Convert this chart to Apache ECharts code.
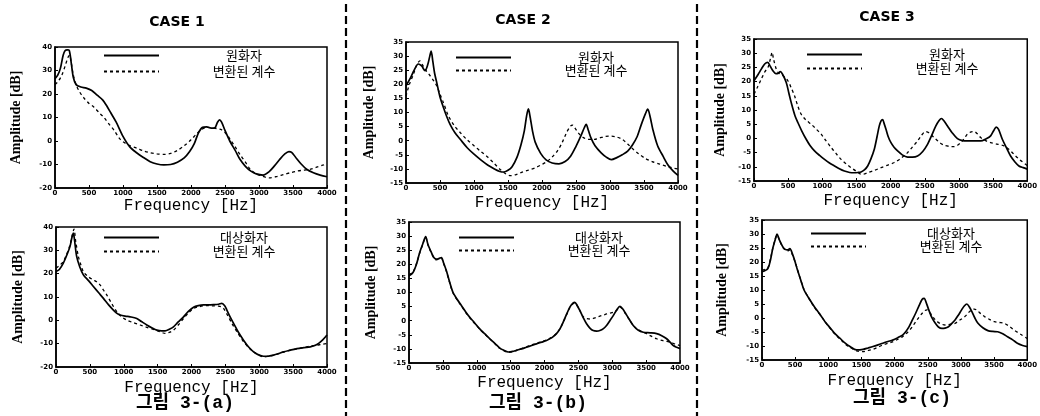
<!DOCTYPE html>
<html lang="ko">
<head>
<meta charset="UTF-8" />
<title>그림 3</title>
<style>
  html, body { margin: 0; padding: 0; background: #fff; }
  #main { width: 1040px; height: 416px; }
</style>
</head>
<body>
<div id="main"></div>
<script src="https://cdn.jsdelivr.net/npm/echarts@6/dist/echarts.min.js"></script>
<script>
// 공통 눈금
var freqTicks = [0, 500, 1000, 1500, 2000, 2500, 3000, 3500, 4000];

// CASE 1 - 원화자 / 변환된 계수
var a1SolidF = [0,40,80,120,150,180,210,240,270,310,380,460,540,620,700,760,820,900,1000,1100,1200,1300,1400,1500,1600,1700,1800,1900,1980,2050,2110,2170,2230,2300,2350,2390,2420,2450,2500,2570,2650,2720,2800,2880,2960,3060,3150,3230,3300,3380,3440,3480,3540,3620,3700,3800,3900,4000];
var a1Solid  = [26.5,28,31,36.5,38.5,38.8,38.5,33,27,24,23,22.5,21.5,19.5,17.5,15,12,8,2,-2.5,-5,-7,-8.8,-9.8,-10.2,-10,-9,-7.2,-4.5,-1,3.5,5.8,6,5.5,5.6,8,9,8,4.5,0,-4,-7.8,-10.8,-12.8,-14,-14.5,-13,-10.5,-8,-5.5,-4.5,-4.8,-7,-9.8,-12,-13.5,-14.5,-15.2];
var a1DashF  = [0,50,100,150,190,215,240,270,310,360,420,500,570,650,720,800,870,950,1000,1100,1200,1300,1400,1500,1600,1700,1800,1900,2000,2080,2150,2230,2300,2380,2450,2520,2580,2650,2720,2800,2870,2950,3050,3150,3250,3360,3460,3560,3660,3760,3860,3950,4000];
var a1Dash   = [24,25.5,28,32,35.5,36.5,33,28,24,21,18.5,16,14.5,12,10,7,4.5,1,-0.3,-2,-3,-4.2,-5,-5.5,-5.7,-5.3,-4,-2,0.5,3,4.8,5.8,5.6,5.3,4.8,3,0.5,-2.5,-5.7,-9,-12,-13.8,-15,-15.7,-15.2,-14.3,-13.5,-12.8,-12.4,-12,-11,-10.2,-9.7];

// CASE 1 - 대상화자 / 변환된 계수
var a2SolidF = [0,50,108,160,207,235,256,275,305,350,404,480,552,630,700,780,847,900,946,1020,1094,1192,1260,1340,1420,1488,1560,1611,1680,1734,1800,1882,1950,2030,2100,2177,2250,2325,2400,2448,2490,2522,2570,2621,2690,2768,2840,2916,2990,3064,3140,3212,3290,3360,3460,3557,3660,3754,3820,3877,3940,4000];
var a2Solid  = [20.9,21.8,24.5,28,31.7,35.5,37.4,34,27.4,23,19.5,17,14.5,11.8,9.4,6.5,4.4,3,2.3,1.8,1.5,0.8,-0.5,-2,-3.3,-4.2,-4.5,-4.5,-3.7,-2.8,-0.8,1.5,3.7,5.6,6.3,6.6,6.6,6.7,6.9,7.3,6.3,4.4,1.5,-1.3,-5,-8.5,-11.3,-13.5,-14.8,-15.4,-15.3,-14.9,-14.2,-13.5,-12.8,-12.1,-11.7,-11.4,-10.8,-9.9,-8.3,-6.3];
var a2DashF  = [0,50,108,160,207,240,266,290,330,370,404,470,552,600,650,700,749,820,897,970,1044,1140,1241,1340,1438,1530,1611,1670,1734,1810,1882,1950,2030,2120,2226,2310,2399,2440,2473,2530,2596,2680,2768,2840,2916,2990,3064,3160,3261,3360,3458,3555,3655,3750,3852,3930,4000];
var a2Dash   = [22.4,23.5,25.2,28.5,32.4,36.5,39.1,34,27.4,23.5,20.9,18.8,17.3,16.5,15.2,13,10.9,7.3,3.7,1.5,0.1,-1,-2,-3,-3.9,-4.8,-5.6,-5.2,-4.2,-1.8,0.8,3,5.1,5.9,6.3,6.2,6.1,5.8,5.1,2.3,-1.3,-5.3,-9.2,-11.5,-13.5,-14.8,-15.7,-15.3,-14.5,-13.6,-12.8,-12.2,-11.6,-11.1,-10.6,-10.3,-9.9];

// CASE 2 - 원화자 / 변환된 계수
var b1SolidF = [0,60,120,180,230,280,320,350,370,395,420,453,500,552,600,650,720,800,900,1000,1100,1200,1300,1380,1440,1500,1560,1630,1690,1740,1775,1800,1825,1860,1900,1980,2060,2150,2250,2340,2420,2500,2570,2620,2650,2680,2720,2780,2870,2950,3020,3100,3180,3260,3330,3400,3460,3520,3555,3590,3630,3700,3780,3850,3930,4000];
var b1Solid  = [19.5,22,25,27.2,26.5,24.8,27,30,31.8,28,24,20.5,15.5,11.7,8.5,5.7,2.8,0.4,-2.5,-4.8,-6.8,-8.6,-10,-10.9,-11.1,-10.5,-9.2,-6,-1.5,3.5,9,11.3,8.5,3.5,-0.5,-4.5,-6.8,-7.9,-8.2,-7.4,-5.5,-2,1.6,4.5,5.8,3.8,1,-1.8,-4.3,-5.9,-6.7,-6,-5,-3.7,-1.5,1.5,5.7,9.5,11.2,8.5,4,-1.8,-5.5,-8.5,-10.8,-12.3];
var b1DashF  = [0,50,108,160,205,240,290,340,400,453,500,552,620,700,800,900,1000,1100,1200,1290,1390,1470,1540,1620,1700,1800,1900,2000,2080,2160,2230,2300,2360,2420,2450,2490,2540,2600,2680,2770,2850,2930,3020,3100,3180,3260,3330,3420,3520,3620,3730,3850,3950,4000];
var b1Dash   = [15.8,20,23.5,27,28.3,27,25,23.5,21.5,19.4,16.5,13.4,9,5.7,2.8,0.3,-1.8,-3.8,-5.8,-7.9,-10.3,-11.8,-12.4,-12,-11.2,-10.4,-9.6,-8.4,-7.3,-5.5,-3.5,-0.5,2.8,5.2,5.5,4.3,2.6,1.2,0.5,0.5,1,1.5,1.6,1.3,0.5,-1.2,-2.8,-4.6,-6.3,-7.4,-8.3,-9.2,-9.8,-10];

// CASE 2 - 대상화자 / 변환된 계수
var b2SolidF = [0,59,110,158,200,246,280,330,370,404,440,478,510,552,600,650,710,773,835,897,970,1044,1120,1192,1270,1340,1400,1463,1530,1586,1660,1734,1810,1882,1960,2030,2110,2177,2230,2276,2330,2374,2420,2448,2480,2522,2570,2621,2670,2719,2770,2817,2870,2916,2965,3015,3070,3113,3150,3187,3250,3310,3380,3458,3560,3655,3730,3803,3860,3901,3950,4000];
var b2Solid  = [15.9,17.1,20,24.2,27,29.8,27,24.2,22.3,21.8,22,22.4,20.5,17.7,13.7,10,7.6,5.4,3.2,1.2,-0.8,-2.9,-4.7,-6.4,-8.1,-9.7,-10.5,-11.1,-10.9,-10.5,-10,-9.4,-8.8,-8.2,-7.6,-7,-6,-4.6,-2.8,-0.5,2.5,4.8,6.2,6.5,5.5,3.6,1.2,-1.1,-2.6,-3.5,-3.7,-3.5,-2.8,-1.7,0,1.8,4,5.1,4.3,3,0.5,-1.7,-3.3,-4.1,-4.3,-4.6,-5.3,-6.4,-7.8,-8.8,-9.4,-9.9];
var b2DashF  = [0,59,110,158,200,246,280,330,370,404,440,478,510,552,600,650,710,773,835,897,970,1044,1120,1192,1270,1340,1400,1463,1530,1586,1660,1734,1810,1882,1960,2030,2110,2177,2230,2276,2330,2374,2420,2448,2480,2522,2570,2621,2670,2719,2770,2817,2870,2916,2965,3015,3070,3113,3150,3187,3250,3310,3380,3458,3507,3560,3655,3750,3852,3930,4000];
var b2Dash   = [16.2,17.3,20.2,24,26.8,29.5,26.8,24,22.2,21.6,21.8,22.1,20.3,17.5,13.5,9.8,7.4,5.2,3,1,-1,-3,-4.8,-6.5,-8.2,-9.8,-10.6,-11.2,-11,-10.5,-9.9,-9.3,-8.6,-8,-7.4,-6.8,-5.8,-4.5,-2.8,-0.6,2.4,4.6,6,6.3,5.4,3.6,1.4,0.8,0.6,0.8,1.2,1.6,2,2.4,2.7,3,3.8,4.8,4.2,2.8,0.5,-1.7,-3.2,-4.1,-4.6,-5.3,-6.4,-7.1,-7.6,-8.3,-8.8];

// CASE 3 - 원화자 / 변환된 계수
var c1SolidF = [0,60,107,160,200,240,277,320,350,385,420,472,510,545,600,642,700,764,820,886,960,1032,1100,1178,1250,1323,1400,1469,1520,1567,1620,1664,1710,1761,1800,1834,1860,1883,1905,1932,1965,2005,2050,2102,2170,2248,2320,2394,2470,2540,2600,2662,2710,2744,2780,2832,2900,2978,3050,3124,3220,3318,3400,3464,3510,3545,3580,3635,3700,3756,3820,3878,3940,4000];
var c1Solid  = [20.3,22.5,24.4,26.3,26.8,25.3,23.8,22.8,22.9,23.5,22.5,19.7,16,12.6,8,5.6,2.6,-0.3,-2.5,-4.4,-6,-7.4,-8.6,-9.7,-10.7,-11.5,-12,-12.1,-12,-11.8,-11,-9.7,-7.3,-3.8,0.5,4.4,6.2,6.6,5.2,3.2,0.6,-1.5,-3.1,-4.4,-5.8,-6.6,-6.6,-6.2,-4.6,-2.1,1,4.4,6.3,7,6.2,4.4,2,-0.1,-0.8,-0.9,-0.9,-0.9,-0.1,0.9,2.8,4,3.2,-0.3,-3.5,-6.2,-8.3,-9.7,-10.3,-10.8];
var c1DashF  = [0,50,107,160,204,240,265,285,326,360,399,450,496,545,593,640,691,760,837,910,983,1050,1129,1200,1275,1350,1421,1500,1567,1620,1664,1760,1859,1960,2053,2150,2248,2320,2394,2450,2510,2560,2637,2710,2783,2860,2929,2980,3026,3080,3124,3180,3221,3270,3318,3390,3464,3560,3659,3730,3805,3890,3975,4000];
var c1Dash   = [15.6,18,20.9,23.5,25,28,30.3,28,24.4,23,22.6,21.5,20.3,17.8,15,11.5,8.5,6.5,5,3.3,1.5,-0.7,-3.2,-5.3,-7.4,-9,-10.3,-11.6,-12.6,-12.5,-12.1,-11.3,-10.3,-9.4,-8.5,-7,-5,-3,-0.9,1,2.4,2,0.3,-1.3,-2.4,-2.8,-2.9,-2.4,-1.5,0,1.5,2.3,2.4,1.6,0.3,-0.8,-1.5,-2,-2.6,-3.8,-5.6,-7.5,-9.1,-9.5];

// CASE 3 - 대상화자 / 변환된 계수
var c2SolidF = [0,89,130,163,200,228,260,312,350,386,420,460,500,535,585,634,700,757,820,881,950,1030,1100,1178,1250,1327,1426,1525,1600,1673,1750,1822,1900,1970,2050,2119,2170,2218,2270,2317,2370,2416,2445,2480,2515,2560,2614,2660,2713,2760,2812,2860,2911,2960,3010,3050,3090,3125,3165,3210,3257,3330,3406,3480,3554,3630,3703,3780,3851,3930,4000];
var c2Solid  = [16.5,17.7,21,24.9,28,30,28,25.5,24.5,24.3,24.8,22.8,20,17.1,13.5,10,7.3,5.2,3,1.1,-1.3,-3.6,-5.6,-7.3,-8.9,-10.2,-11.4,-11.2,-10.7,-10.2,-9.6,-9,-8.4,-7.9,-7,-6.1,-4.8,-3.1,-0.6,1.7,4.5,6.7,7,5.2,2.9,0.2,-1.9,-3.2,-3.7,-3.6,-3.1,-2,-0.7,1,2.9,4.3,5,4,2.3,0,-1.9,-3.5,-4.5,-4.8,-4.9,-5.6,-6.7,-7.8,-9,-9.8,-10.2];
var c2DashF  = [0,89,130,163,200,228,260,312,350,386,420,460,500,535,585,634,700,757,820,881,950,1030,1100,1178,1250,1327,1426,1525,1600,1673,1750,1822,1900,1970,2050,2119,2200,2267,2340,2416,2460,2490,2540,2614,2690,2762,2830,2911,2980,3059,3110,3158,3200,3240,3300,3356,3430,3505,3580,3653,3730,3802,3900,4000];
var c2Dash   = [17.1,18,21.5,25,28.3,29.6,28,25.3,24.3,24,24.3,22.5,20,17.3,13.5,10.2,7.3,5,2.8,1,-1.3,-3.8,-5.8,-7.6,-9.2,-10.5,-11.7,-12,-11.6,-11.2,-10.4,-9.6,-9,-8.5,-7.6,-6.7,-5,-3.1,-0.6,1.7,2.7,2.9,1.6,-0.7,-2,-2.5,-2.3,-1.9,-0.8,0.5,1.8,2.9,3.2,2.8,1.5,0.5,-0.5,-1.3,-1.6,-1.9,-3,-4.3,-5.8,-7.3];

var labelsTop = ['원화자', '변환된 계수'];
var labelsBottom = ['대상화자', '변환된 계수'];

function pairs(f, a) {
  var out = [];
  for (var i = 0; i < f.length; i++) out.push([f[i], a[i]]);
  return out;
}

// 각 그래프 위치 (box: left, top, width, height / legend: left, top, gap)
var panels = [
  { box: [55, 47, 272, 141], y: [-20, 40, 10], names: labelsTop,    solid: pairs(a1SolidF, a1Solid), dash: pairs(a1DashF, a1Dash), legend: [103, 49, 3], yGap: 32, xGap: 10 },
  { box: [406, 42, 272, 141], y: [-15, 35, 5], names: labelsTop,    solid: pairs(b1SolidF, b1Solid), dash: pairs(b1DashF, b1Dash), legend: [455, 51, 0], yGap: 30, xGap: 12 },
  { box: [754, 39, 274, 142], y: [-15, 35, 5], names: labelsTop,    solid: pairs(c1SolidF, c1Solid), dash: pairs(c1DashF, c1Dash), legend: [806, 48, 1], yGap: 27, xGap: 12 },
  { box: [56, 227, 271, 140], y: [-20, 40, 10], names: labelsBottom, solid: pairs(a2SolidF, a2Solid), dash: pairs(a2DashF, a2Dash), legend: [103, 231, 1], yGap: 31, xGap: 13 },
  { box: [409, 222, 271, 141], y: [-15, 35, 5], names: labelsBottom, solid: pairs(b2SolidF, b2Solid), dash: pairs(b2DashF, b2Dash), legend: [458, 231, 0], yGap: 31, xGap: 12 },
  { box: [762, 220, 270, 140], y: [-15, 35, 5], names: labelsBottom, solid: pairs(c2SolidF, c2Solid), dash: pairs(c2DashF, c2Dash), legend: [810, 227, 0], yGap: 33, xGap: 13 }
];

var grids = [], xAxes = [], yAxes = [], series = [], legends = [];
var tickFont = { fontSize: 7, fontWeight: 'bold', color: '#000', fontFamily: 'DejaVu Sans', margin: 3,
  formatter: function (v) { return String(v); } };

panels.forEach(function (p, i) {
  grids.push({ left: p.box[0], top: p.box[1], width: p.box[2], height: p.box[3],
    show: true, borderColor: '#000', borderWidth: 1.5, backgroundColor: 'transparent' });
  xAxes.push({
    gridIndex: i, type: 'value', min: freqTicks[0], max: freqTicks[freqTicks.length - 1], interval: 500,
    name: 'Frequency [Hz]', nameLocation: 'middle', nameGap: p.xGap,
    nameTextStyle: { fontFamily: 'Liberation Mono', fontSize: 16, color: '#000' },
    axisLine: { onZero: false, lineStyle: { color: '#000', width: 1.5 } },
    axisTick: { inside: true, length: 3, lineStyle: { color: '#000' } },
    axisLabel: Object.assign({}, tickFont, { margin: 2 }),
    splitLine: { show: false }
  });
  yAxes.push({
    gridIndex: i, type: 'value', min: p.y[0], max: p.y[1], interval: p.y[2],
    name: 'Amplitude [dB]', nameLocation: 'middle', nameGap: p.yGap, nameRotate: 90,
    nameTextStyle: { fontFamily: 'Liberation Serif', fontWeight: 'bold', fontSize: 14, color: '#000' },
    axisLine: { onZero: false, lineStyle: { color: '#000', width: 1.5 } },
    axisTick: { inside: true, length: 3, lineStyle: { color: '#000' } },
    axisLabel: tickFont,
    splitLine: { show: false }
  });
  series.push({
    name: p.names[0], type: 'line', xAxisIndex: i, yAxisIndex: i, data: p.solid,
    symbol: 'none', smooth: 0.3, color: '#000', lineStyle: { color: '#000', width: 1.7 }, z: 3
  });
  series.push({
    name: p.names[1], type: 'line', xAxisIndex: i, yAxisIndex: i, data: p.dash,
    symbol: 'none', smooth: 0.3, color: '#000', lineStyle: { color: '#000', width: 1.3, type: [3, 3] }, z: 2
  });
  legends.push({
    data: p.names, orient: 'vertical', left: p.legend[0], top: p.legend[1], itemGap: p.legend[2],
    padding: 0, itemWidth: 55, itemHeight: 14, selectedMode: false,
    itemStyle: { opacity: 0 },
    formatter: function (name) { return '{t|' + name + '}'; },
    textStyle: { rich: { t: { width: 160, lineHeight: 14, align: 'center', fontSize: 13, color: '#000', fontFamily: 'Noto Sans CJK KR' } } }
  });
});

function label(x, y, text, font) {
  return { type: 'text', x: x, y: y, style: { text: text, font: font, fill: '#000', textAlign: 'center', textVerticalAlign: 'middle' } };
}
function divider(x) {
  return { type: 'line', shape: { x1: x, y1: 4, x2: x, y2: 416 }, style: { stroke: '#000', lineWidth: 2.2, lineDash: [8, 4] } };
}

var myChart = echarts.init(document.getElementById('main'));
myChart.setOption({
  animation: false,
  backgroundColor: '#fff',
  grid: grids,
  xAxis: xAxes,
  yAxis: yAxes,
  legend: legends,
  series: series,
  graphic: [
    label(177, 22, 'CASE 1', 'bold 14px "DejaVu Sans"'),
    label(523, 20, 'CASE 2', 'bold 14px "DejaVu Sans"'),
    label(887, 17, 'CASE 3', 'bold 14px "DejaVu Sans"'),
    label(185, 403, '그림 3-(a)', 'bold 18px "Liberation Mono", "Noto Sans CJK KR"'),
    label(538, 403, '그림 3-(b)', 'bold 18px "Liberation Mono", "Noto Sans CJK KR"'),
    label(902, 398, '그림 3-(c)', 'bold 18px "Liberation Mono", "Noto Sans CJK KR"'),
    divider(346),
    divider(697)
  ]
});
</script>
</body>
</html>
